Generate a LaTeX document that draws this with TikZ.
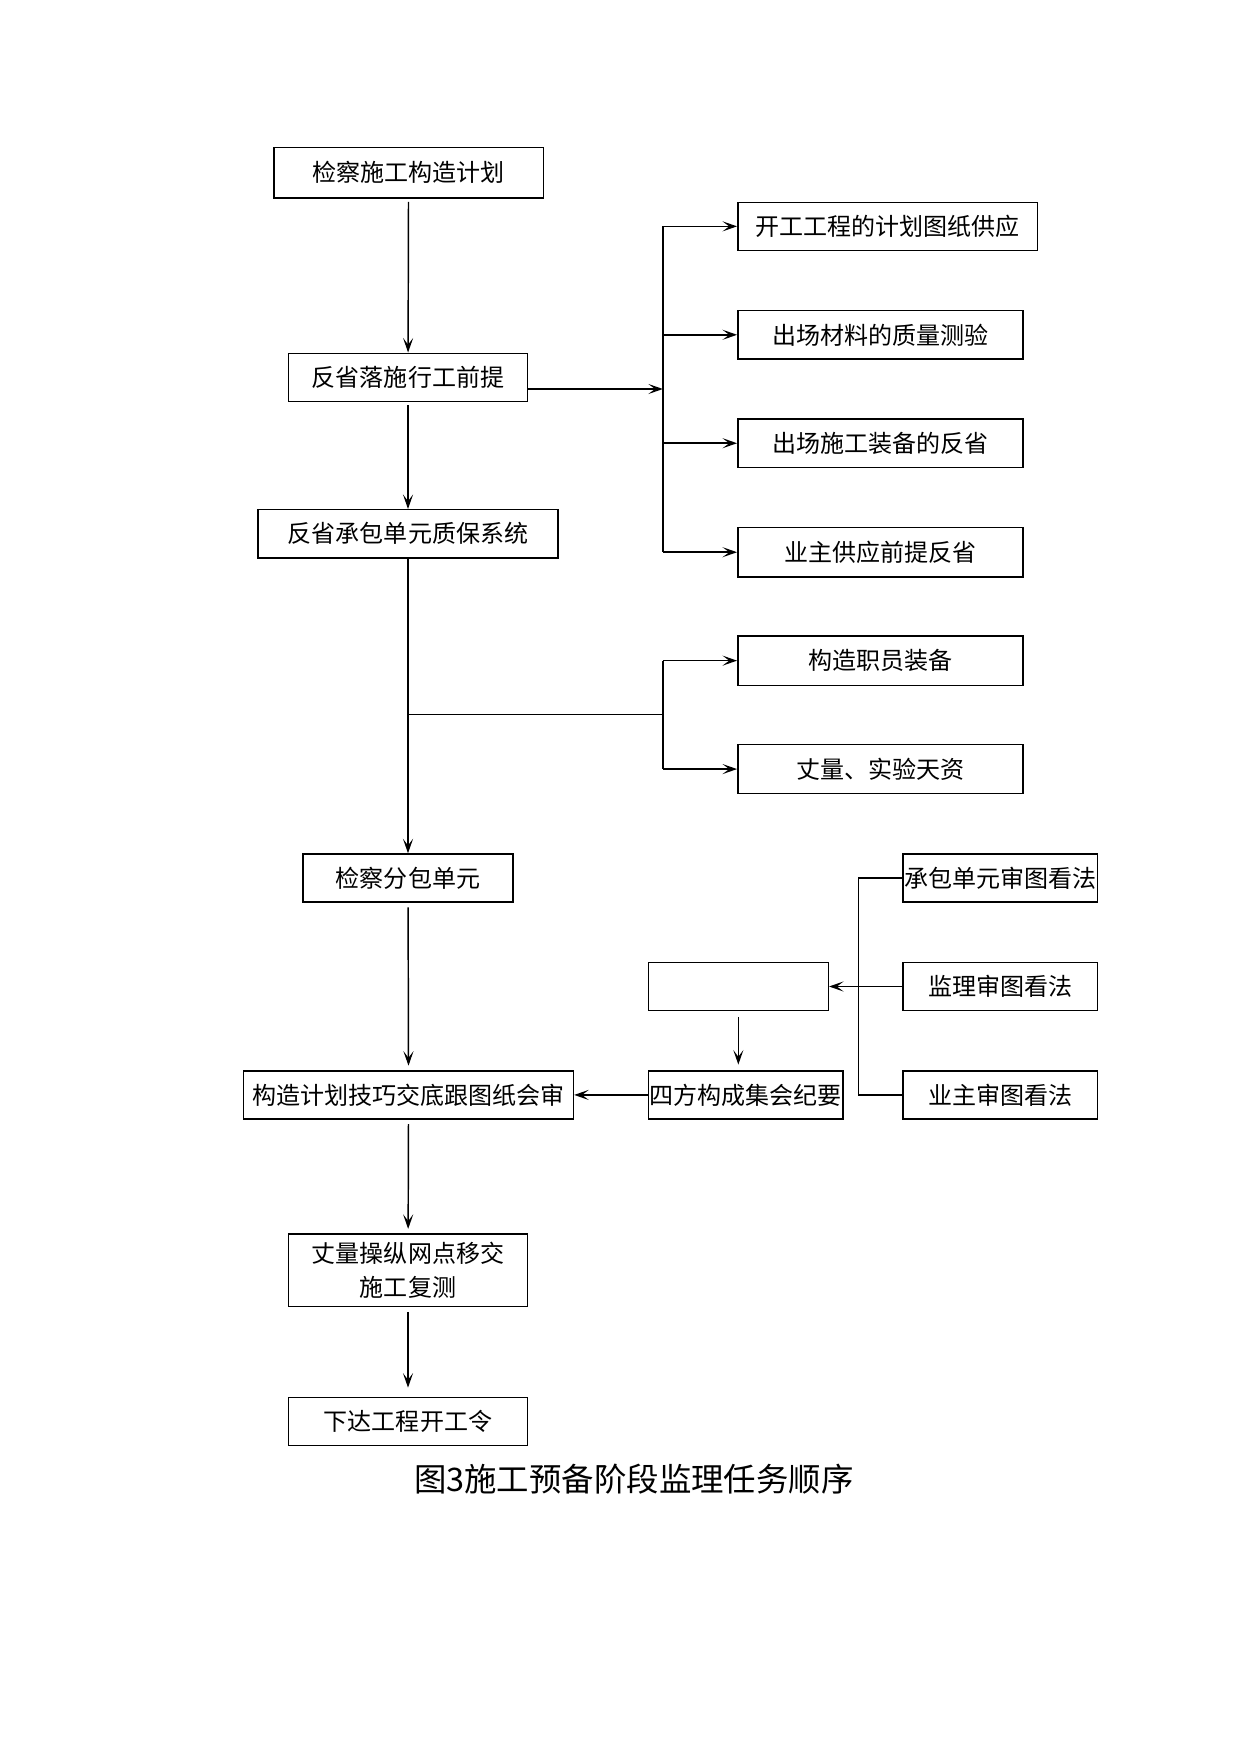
\documentclass[tikz,border=0pt]{standalone}
\usepackage{fontspec}
\setmainfont{Noto Sans CJK SC}
\usetikzlibrary{arrows.meta,calc}
\begin{document}
\begin{tikzpicture}[x=1pt,y=-1pt,
  box/.style={draw,line width=1.3pt,inner sep=0pt,align=center,font=\fontsize{21.5}{30}\selectfont},
  ln/.style={line width=1.3pt},
  arr/.style={line width=1.3pt,-{Stealth[length=13pt,width=9pt,inset=6pt]}}]
\useasboundingbox (0,0) rectangle (1110,1570);
\fill[white] (0,0) rectangle (1110,1570);
\node[box,minimum width=241pt,minimum height=45pt] (b1) at (365.5,154.5) {检察施工构造计划};
\node[box,minimum width=214pt,minimum height=43pt] (b2) at (365,337.5) {反省落施行工前提};
\node[box,minimum width=268pt,minimum height=43pt] (b3) at (365,477.5) {反省承包单元质保系统};
\node[box,minimum width=268pt,minimum height=43pt] (r1) at (794,202.5) {开工工程的计划图纸供应};
\node[box,minimum width=255pt,minimum height=43pt] (r2) at (787.5,299.5) {出场材料的质量测验};
\node[box,minimum width=255pt,minimum height=43pt] (r3) at (787.5,396.5) {出场施工装备的反省};
\node[box,minimum width=255pt,minimum height=44pt] (r4) at (787.5,494) {业主供应前提反省};
\node[box,minimum width=255pt,minimum height=44pt] (r5) at (787.5,591) {构造职员装备};
\node[box,minimum width=255pt,minimum height=44pt] (r6) at (787.5,688) {丈量、实验天资};
\node[box,minimum width=188pt,minimum height=43pt] (b4) at (365,785.5) {检察分包单元};
\node[box,minimum width=295pt,minimum height=43pt] (b5) at (365.5,979.5) {构造计划技巧交底跟图纸会审};
\node[box,minimum width=174pt,minimum height=43pt] (m) at (667,979.5) {四方构成集会纪要};
\node[box,minimum width=161pt,minimum height=43pt] (e) at (660.5,882.5) {};
\node[box,minimum width=174pt,minimum height=43pt] (s1) at (895,785.5) {承包单元审图看法};
\node[box,minimum width=174pt,minimum height=43pt] (s2) at (895,882.5) {监理审图看法};
\node[box,minimum width=174pt,minimum height=43pt] (s3) at (895,979.5) {业主审图看法};
\node[box,minimum width=214pt,minimum height=65pt] (b6) at (365,1136.5) {丈量操纵网点移交\\施工复测};
\node[box,minimum width=214pt,minimum height=43pt] (b7) at (365,1271.5) {下达工程开工令};
\node[font=\fontsize{29}{34}\selectfont] (cap) at (567,1323) {图3施工预备阶段监理任务顺序};
% connectors
\coordinate (j1) at (593,348);
\coordinate (k) at (365,639);
\coordinate (k2) at (593,639);
\coordinate (c) at (768,883);
\draw[arr,shorten <=3pt] (b1) -- (b2);
\draw[arr] (b2.east |- j1) -- (j1);
\draw[ln] (j1 |- r1.west) -- (j1 |- r4.west);
\foreach \r in {r1,r2,r3,r4} \draw[arr] (j1 |- \r.west) -- (\r.west);
\draw[arr,shorten <=3pt] (b2) -- (b3);
\draw[arr] (b3) -- (b4);
\draw[ln] (k) -- (k2);
\draw[ln] (k2 |- r5.west) -- (k2 |- r6.west);
\foreach \r in {r5,r6} \draw[arr] (k2 |- \r.west) -- (\r.west);
\draw[arr,shorten <=4pt,shorten >=4pt] (b4) -- (b5);
\draw[arr,shorten <=4pt,shorten >=4pt] (b5) -- (b6);
\draw[arr,shorten <=4pt,shorten >=8pt] (b6) -- (b7);
\draw[arr] (m) -- (b5);
\draw[arr,shorten <=5pt,shorten >=5pt] (e.south) -- (e.south |- m.north);
\draw[arr] (s2) -- (e);
\draw[ln] (s1.west) -- (c |- s1.west) -- (c |- s3.west) -- (s3.west);
\end{tikzpicture}
\end{document}
